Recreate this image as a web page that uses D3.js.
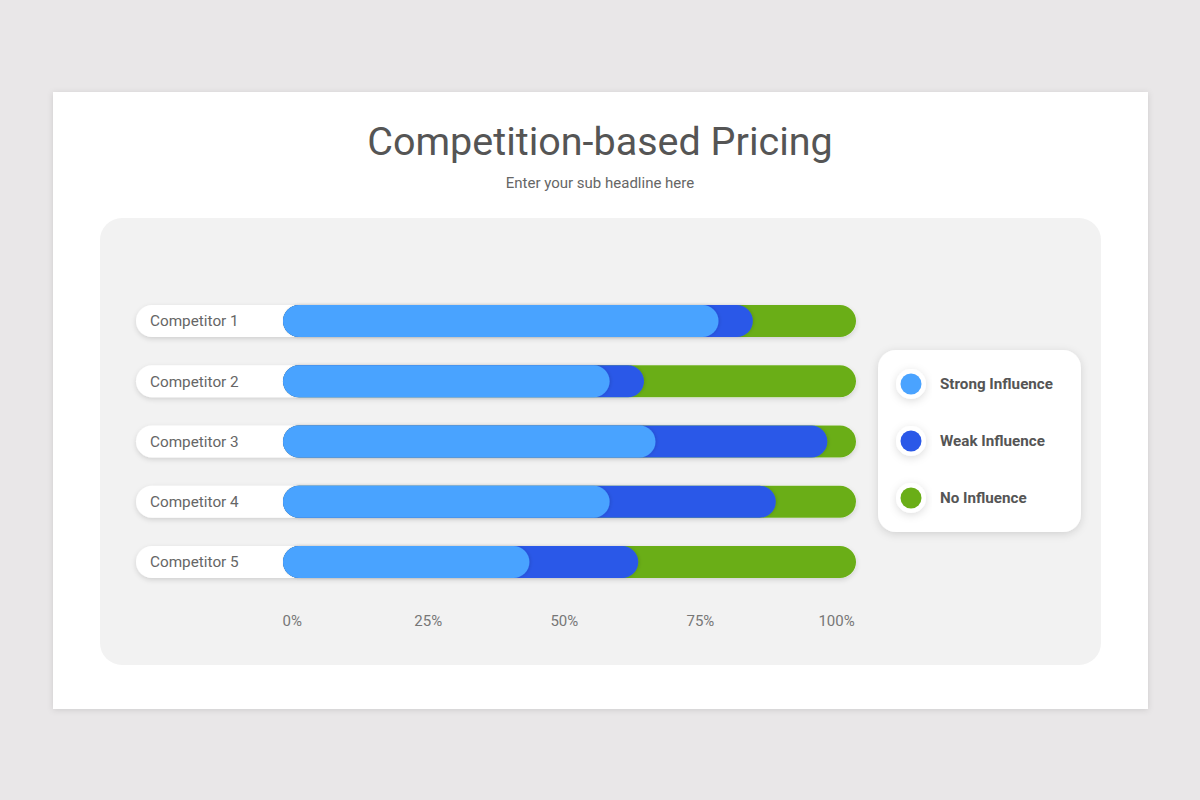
<!DOCTYPE html>
<html>
<head>
<meta charset="utf-8">
<script src="https://cdn.jsdelivr.net/npm/d3@7"></script>
<style>
  html, body { margin: 0; padding: 0; background: #e9e7e8; }
  svg { display: block; font-family: Roboto, "Noto Sans", sans-serif; }
</style>
</head>
<body>
<svg id="chart" width="1200" height="800"></svg>
<script>
// data (percent of each competitor)
var competitors = ['Competitor 1', 'Competitor 2', 'Competitor 3', 'Competitor 4', 'Competitor 5'];
var strongValues = [76, 57, 65, 57, 43];
var weakValues   = [6, 6, 30, 29, 19];
var noValues     = [18, 37, 5, 14, 38];
var seriesNames  = ['Strong Influence', 'Weak Influence', 'No Influence'];
var seriesColors = ['#4aa3ff', '#2a58e8', '#6aae17'];
var tickLabels   = ['0%', '25%', '50%', '75%', '100%'];

var svg = d3.select('#chart');

// shadows
var defs = svg.append('defs');
function shadow(id, dx, dy, blur, op) {
  var f = defs.append('filter').attr('id', id)
    .attr('x', '-20%').attr('y', '-40%').attr('width', '140%').attr('height', '200%');
  f.append('feDropShadow')
    .attr('dx', dx).attr('dy', dy)
    .attr('stdDeviation', blur)
    .attr('flood-color', '#000')
    .attr('flood-opacity', op);
}
shadow('slideShadow', 0, 1, 3, 0.12);
shadow('pillShadow', 0, 2, 2.5, 0.14);
shadow('segShadow', 1.5, 0, 1.5, 0.1);
shadow('boxShadow', 0, 2, 4, 0.14);

// slide + panel
svg.append('rect')
  .attr('x', 53).attr('y', 92)
  .attr('width', 1095).attr('height', 617)
  .attr('fill', '#fff')
  .attr('filter', 'url(#slideShadow)');

svg.append('rect')
  .attr('x', 100).attr('y', 218)
  .attr('width', 1001).attr('height', 447)
  .attr('rx', 22)
  .attr('fill', '#f2f2f2');

svg.append('text')
  .attr('x', 600).attr('y', 155)
  .attr('text-anchor', 'middle')
  .attr('font-size', 39.5)
  .attr('fill', '#555')
  .text('Competition-based Pricing');

svg.append('text')
  .attr('x', 600).attr('y', 188)
  .attr('text-anchor', 'middle')
  .attr('font-size', 15)
  .attr('fill', '#666')
  .text('Enter your sub headline here');

// scales
var x = d3.scaleLinear().domain([0, 100]).range([283, 856]);
var y = d3.scalePoint().domain(competitors).range([321, 562]);
var barH = 32;

var rows = competitors.map(function(c, i) {
  return { name: c, strong: strongValues[i], weak: weakValues[i], none: noValues[i] };
});

var row = svg.selectAll('.row')
  .data(rows)
  .enter()
  .append('g')
  .attr('class', 'row')
  .attr('transform', function(d) { return 'translate(0,' + (y(d.name) - barH / 2) + ')'; });

// white label pill
row.append('rect')
  .attr('x', 136)
  .attr('width', x(100) - 136)
  .attr('height', barH)
  .attr('rx', barH / 2)
  .attr('fill', '#fff')
  .attr('filter', 'url(#pillShadow)');

row.append('text')
  .attr('x', 150)
  .attr('y', barH / 2)
  .attr('dy', '0.35em')
  .attr('font-size', 15.3)
  .attr('fill', '#666')
  .text(function(d) { return d.name; });

// stacked segments, drawn back to front as overlapping pills
var layers = [
  { key: 'none', color: seriesColors[2], end: function(d) { return d.strong + d.weak + d.none; } },
  { key: 'weak', color: seriesColors[1], end: function(d) { return d.strong + d.weak; } },
  { key: 'strong', color: seriesColors[0], end: function(d) { return d.strong; } }
];

layers.forEach(function(l) {
  row.append('rect')
    .attr('class', 'seg-' + l.key)
    .attr('x', x(0))
    .attr('width', function(d) { return x(l.end(d)) - x(0); })
    .attr('height', barH)
    .attr('rx', barH / 2)
    .attr('fill', l.color)
    .attr('filter', l.key === 'none' ? null : 'url(#segShadow)');
});

// tick labels
var tickScale = d3.scalePoint().domain(tickLabels).range([x(1.6), x(96.6)]);
svg.selectAll('.tick-label')
  .data(tickLabels)
  .enter()
  .append('text')
  .attr('class', 'tick-label')
  .attr('x', function(d) { return tickScale(d); })
  .attr('y', 626)
  .attr('text-anchor', 'middle')
  .attr('font-size', 15)
  .attr('fill', '#777')
  .text(function(d) { return d; });

// legend
var legend = svg.append('g').attr('transform', 'translate(878,350)');
legend.append('rect')
  .attr('width', 203).attr('height', 182)
  .attr('rx', 18)
  .attr('fill', '#fff')
  .attr('filter', 'url(#boxShadow)');

var ly = d3.scalePoint().domain(seriesNames).range([34, 148]);

var item = legend.selectAll('.item')
  .data(seriesNames)
  .enter()
  .append('g')
  .attr('class', 'item')
  .attr('transform', function(d) { return 'translate(33,' + ly(d) + ')'; });

item.append('circle')
  .attr('r', 15)
  .attr('fill', '#fff')
  .attr('filter', 'url(#boxShadow)');

item.append('circle')
  .attr('r', 10.5)
  .attr('fill', function(d, i) { return seriesColors[i]; });

item.append('text')
  .attr('x', 29)
  .attr('dy', '0.35em')
  .attr('font-size', 15.2)
  .attr('font-weight', 'bold')
  .attr('fill', '#555')
  .text(function(d) { return d; });
</script>
</body>
</html>
